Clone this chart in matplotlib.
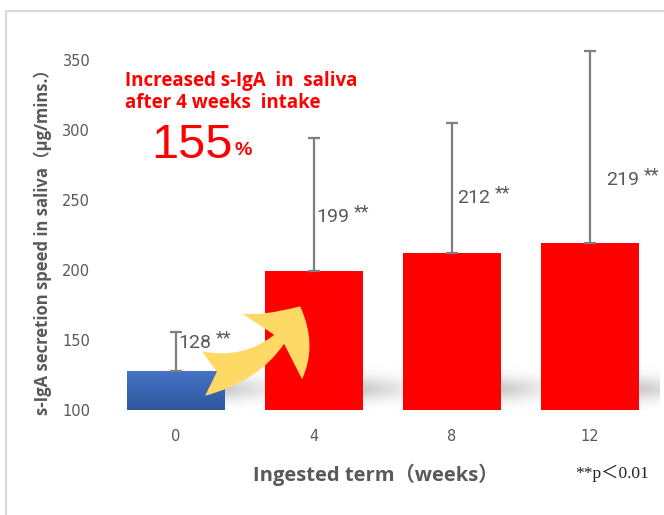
import numpy as np
import matplotlib
matplotlib.use("Agg")
import matplotlib.pyplot as plt
from matplotlib.patches import FancyArrowPatch, Rectangle

# data
weeks = ["0", "4", "8", "12"]
means = [128, 199, 212, 219]
err_up = [28, 95, 93, 137]
value_labels = ["128", "199", "212", "219"]
y_ticks = [100, 150, 200, 250, 300, 350]

# layout of the value labels (data units)
label_dx = [0.02, 0.02, 0.04, 0.12]
label_y = [148, 238, 251, 264]

GRAY = "#595959"
CJK = ["Open Sans", "Noto Sans CJK JP", "DejaVu Sans"]


def shadow(ax, x0, width):
    # soft grey band to the right of a bar foot
    h, w = 40, 40
    yy = np.linspace(0, 1, h)[:, None]
    xx = np.linspace(0, 1, w)[None, :]
    prof = np.exp(-((yy - 0.45) / 0.25) ** 2) * (1 - 0.6 * xx)
    img = np.zeros((h, w, 4))
    img[..., :3] = 0.6
    img[..., 3] = 0.5 * prof
    ax.imshow(img, extent=[x0, x0 + width, 100, 133], origin="lower",
              aspect="auto", zorder=1, interpolation="bilinear")


def main():
    fig = plt.figure(figsize=(6.64, 5.15), dpi=100)
    ax = fig.add_axes([0.1611, 0.2039, 0.8314, 0.7126])
    x = np.arange(len(weeks))
    w = 0.71

    for i in x:
        shadow(ax, i + w / 2, 1 - w)

    colors = ["#4472C4", "#FF0000", "#FF0000", "#FF0000"]
    bars = ax.bar(x, means, width=w, color=colors, zorder=2)

    # blue bar gradient
    grad = np.linspace(0, 1, 50)[:, None]
    top = np.array([0x46, 0x74, 0xC6]) / 255
    bot = np.array([0x2F, 0x56, 0x9C]) / 255
    img = bot + (top - bot) * grad[..., None]
    b0 = bars[0]
    im = ax.imshow(img, extent=[b0.get_x(), b0.get_x() + w, 100, means[0]],
                   origin="lower", aspect="auto", zorder=3)
    im.set_clip_path(b0)

    ax.errorbar(x, means, yerr=[[0] * len(x), err_up], fmt="none",
                ecolor="#7F7F7F", elinewidth=1.6, capsize=4.5, capthick=1.6,
                zorder=4)

    for i in x:
        t = ax.text(i + label_dx[i], label_y[i], value_labels[i],
                    fontsize=14, color=GRAY, fontfamily="Roboto",
                    ha="left", va="center", zorder=5)
        ax.annotate("**", xy=(1, 1), xycoords=t, xytext=(3, -3),
                    textcoords="offset points", fontsize=13, color=GRAY,
                    fontfamily="Roboto", ha="left", va="center")

    arrow = FancyArrowPatch((0.2, 126), (0.9, 174),
                            arrowstyle="fancy,head_length=0.55,head_width=1.0,tail_width=0.5",
                            connectionstyle="arc3,rad=0.3",
                            mutation_scale=64, color="#FFD966", lw=0,
                            shrinkA=0, shrinkB=0, zorder=6)
    ax.add_patch(arrow)

    ax.set_xlim(-0.5, 3.5)
    ax.set_ylim(100, 362)
    ax.set_xticks(x)
    ax.set_xticklabels(weeks)
    ax.set_yticks(y_ticks)
    ax.tick_params(length=0, colors=GRAY, labelsize=10.5, pad=14)
    ax.tick_params(axis="y", pad=12)
    for s in ax.spines.values():
        s.set_visible(False)

    ax.set_ylabel("s-IgA secretion speed in saliva（μg/mins.）",
                  fontsize=12, fontweight="bold", color=GRAY,
                  fontfamily=CJK)
    ax.yaxis.set_label_coords(-0.1, 0.47)

    fig.text(0.566, 0.078, "Ingested term（weeks）", fontsize=14.5,
             fontweight="bold", color=GRAY, fontfamily=CJK,
             ha="center", va="center")
    fig.text(0.866, 0.08, "**p＜0.01", fontsize=12.5, color="#222222",
             fontfamily=["Liberation Serif", "Noto Sans CJK JP"],
             ha="left", va="center")

    ax.text(-0.368, 327, "Increased s-IgA  in  saliva\nafter 4 weeks  intake",
            fontsize=13.5, fontweight="bold", color="red",
            fontfamily="Open Sans", ha="left", va="center", linespacing=1.15)
    t155 = ax.text(-0.176, 289, "155", fontsize=35, color="red",
                   fontfamily="Liberation Sans", ha="left", va="center")
    ax.annotate("%", xy=(1, 0), xycoords=t155, xytext=(1, 6),
                textcoords="offset points", fontsize=14, fontweight="bold",
                color="red", fontfamily="Liberation Sans",
                ha="left", va="bottom")

    fig.add_artist(Rectangle((6 / 664, -0.1), 2, 1.1 - 11 / 515,
                             transform=fig.transFigure, fill=False,
                             ec="#D9D9D9", lw=1.5))

    fig.savefig("out.png", dpi=100)


if __name__ == "__main__":
    main()
